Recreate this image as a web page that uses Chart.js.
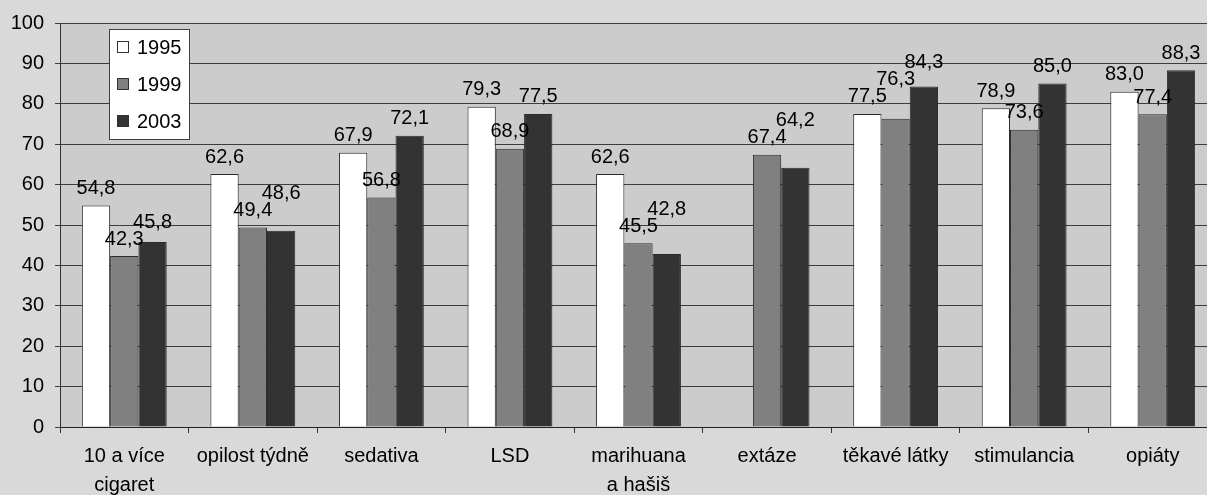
<!DOCTYPE html>
<html>
<head>
<meta charset="utf-8">
<script src="https://cdn.jsdelivr.net/npm/chart.js@4/dist/chart.umd.min.js"></script>
<style>
  html, body { margin: 0; padding: 0; background: #d9d9d9; overflow: hidden; }
  #wrap { width: 1217px; height: 495px; }
</style>
</head>
<body>
<div id="wrap"><canvas id="c" width="1217" height="495"></canvas></div>
<script>
'use strict';

// categories (multi-line ones as arrays)
const categories = [
  ['10 a více', 'cigaret'], 'opilost týdně', 'sedativa', 'LSD',
  ['marihuana', 'a hašiš'], 'extáze', 'těkavé látky', 'stimulancia', 'opiáty'
];
const years = ['1995', '1999', '2003'];
const values1995 = [54.8, 62.6, 67.9, 79.3, 62.6, null, 77.5, 78.9, 83.0];
const values1999 = [42.3, 49.4, 56.8, 68.9, 45.5, 67.4, 76.3, 73.6, 77.4];
const values2003 = [45.8, 48.6, 72.1, 77.5, 42.8, 64.2, 84.3, 85.0, 88.3];
const yTicks = [0, 10, 20, 30, 40, 50, 60, 70, 80, 90, 100];

const FONT = '"Liberation Sans", Arial, Helvetica, sans-serif';
const fills = ['#ffffff', '#808080', '#333333'];

// grey page + plot area background
const backdrop = {
  id: 'backdrop',
  beforeDraw(chart) {
    const { ctx, chartArea: a } = chart;
    ctx.save();
    ctx.fillStyle = '#d9d9d9';
    ctx.fillRect(0, 0, chart.width, chart.height);
    ctx.fillStyle = '#cccccc';
    ctx.fillRect(a.left, a.top, a.right - a.left, a.bottom - a.top);
    ctx.restore();
  }
};

// value labels above the bars, pushed up when they would collide
const valueLabels = {
  id: 'valueLabels',
  afterDatasetsDraw(chart) {
    const ctx = chart.ctx;
    ctx.save();
    ctx.font = '20px ' + FONT;
    ctx.fillStyle = '#000';
    ctx.textAlign = 'center';
    ctx.textBaseline = 'bottom';
    const h = 17;
    categories.forEach((_, i) => {
      const placed = [];
      chart.data.datasets.forEach((ds, d) => {
        const v = ds.data[i];
        if (v == null) return;
        const bar = chart.getDatasetMeta(d).data[i];
        const txt = v.toFixed(1).replace('.', ',');
        const w = ctx.measureText(txt).width;
        let bottom = bar.y - 7;
        let moved = true;
        while (moved) {
          moved = false;
          for (const p of placed) {
            const overlapX = Math.abs(p.x - bar.x) < (p.w + w) / 2 - 2;
            const overlapY = bottom > p.bottom - h && bottom - h < p.bottom;
            if (overlapX && overlapY) { bottom = p.bottom - h; moved = true; }
          }
        }
        placed.push({ x: bar.x, w, bottom });
        ctx.fillText(txt, bar.x, bottom);
      });
    });
    ctx.restore();
  }
};

// boxed legend inside the plot area
const boxLegend = {
  id: 'boxLegend',
  afterDraw(chart) {
    const { ctx, chartArea: a } = chart;
    const x = a.left + 49, y = a.top + 6, w = 80, h = 110;
    ctx.save();
    ctx.fillStyle = '#ffffff';
    ctx.fillRect(x, y, w, h);
    ctx.strokeStyle = '#404040';
    ctx.lineWidth = 1;
    ctx.strokeRect(x + 0.5, y + 0.5, w, h);
    ctx.font = '20px ' + FONT;
    ctx.textBaseline = 'middle';
    chart.data.datasets.forEach((ds, i) => {
      const cy = y + 18 + i * 37;
      ctx.fillStyle = ds.backgroundColor;
      ctx.fillRect(x + 8, cy - 6, 12, 12);
      ctx.strokeStyle = '#333';
      ctx.strokeRect(x + 8.5, cy - 5.5, 11, 11);
      ctx.fillStyle = '#000';
      ctx.fillText(ds.label, x + 28, cy + 1);
    });
    ctx.restore();
  }
};

const series = [values1995, values1999, values2003];

new Chart(document.getElementById('c'), {
  type: 'bar',
  data: {
    labels: categories,
    datasets: series.map((vals, i) => ({
      label: years[i],
      data: vals,
      backgroundColor: fills[i],
      borderColor: '#2b2b2b',
      borderWidth: 1,
      categoryPercentage: 0.66,
      barPercentage: 1.0
    }))
  },
  options: {
    responsive: false,
    animation: false,
    devicePixelRatio: 1,
    layout: { padding: { top: 23, right: 0, left: 0, bottom: 0 } },
    plugins: { legend: { display: false }, tooltip: { enabled: false } },
    scales: {
      x: {
        offset: true,
        afterFit: s => { s.height = 68; },
        grid: { offset: true, drawOnChartArea: false, drawTicks: true, tickLength: 6, color: '#333' },
        border: { display: true, color: '#222', width: 1 },
        ticks: { color: '#000', padding: 9, maxRotation: 0, autoSkip: false,
                 font: { family: FONT, size: 20, lineHeight: 1.45 } }
      },
      y: {
        min: 0, max: 100,
        afterFit: s => { s.width = 60; },
        afterBuildTicks: s => { s.ticks = yTicks.map(v => ({ value: v })); },
        grid: { color: '#3c3c3c', lineWidth: 1, tickLength: 5 },
        border: { display: true, color: '#333', width: 1 },
        ticks: { color: '#000', padding: 11, font: { family: FONT, size: 20 } }
      }
    }
  },
  plugins: [backdrop, valueLabels, boxLegend]
});
</script>
</body>
</html>
